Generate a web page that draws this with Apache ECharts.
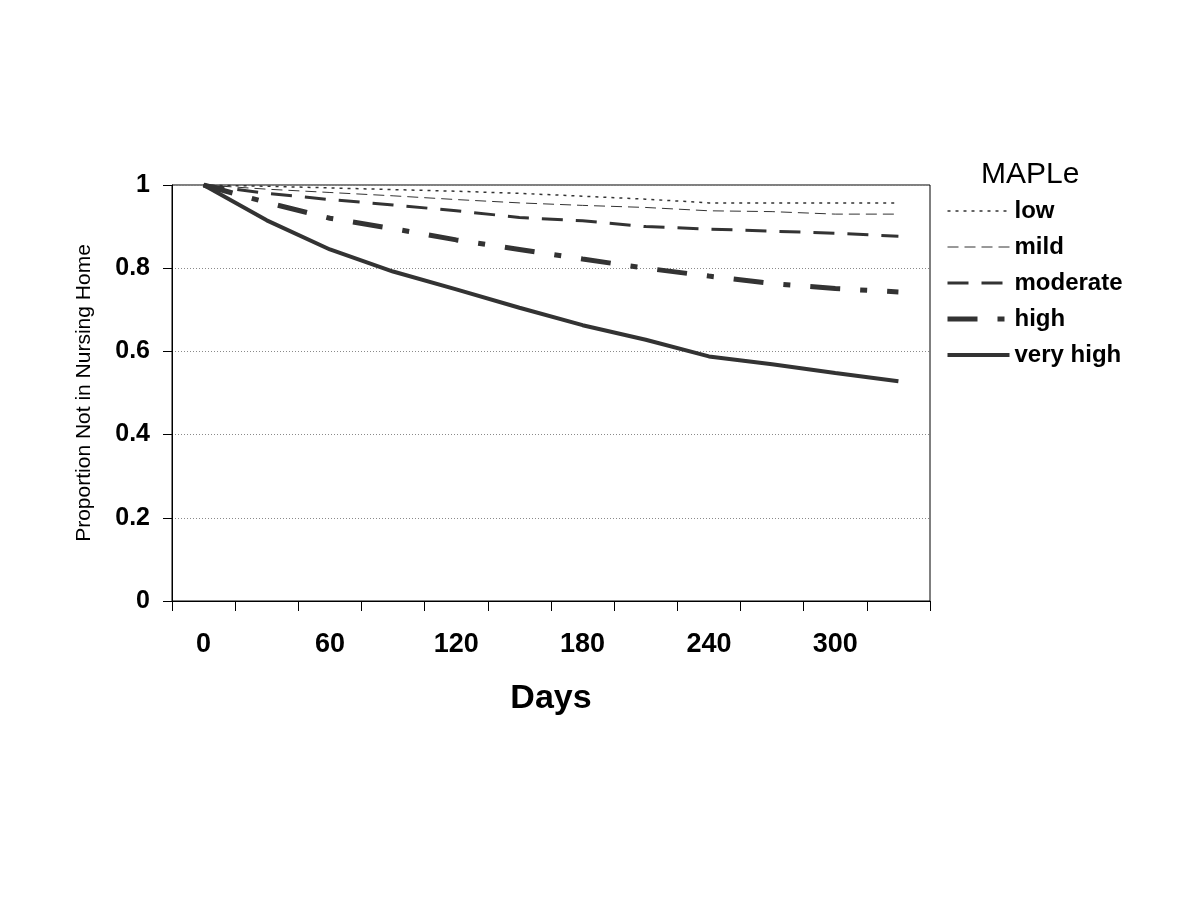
<!DOCTYPE html>
<html>
<head>
<meta charset="utf-8">
<script src="https://cdn.jsdelivr.net/npm/echarts@6/dist/echarts.min.js"></script>
<style>html,body{margin:0;padding:0;background:#fff;}#c{width:1200px;height:900px;}</style>
</head>
<body>
<div id="c"></div>
<script>
var days = [0, 30, 60, 90, 120, 150, 180, 210, 240, 270, 300, 330];
var yTicks = [0, 0.2, 0.4, 0.6, 0.8, 1];
var seriesNames = ['low', 'mild', 'moderate', 'high', 'very high'];
var low      = [1.0, 0.997, 0.993, 0.989, 0.985, 0.980, 0.973, 0.966, 0.957, 0.957, 0.957, 0.957];
var mild     = [1.0, 0.990, 0.982, 0.974, 0.965, 0.957, 0.951, 0.946, 0.938, 0.936, 0.930, 0.930];
var moderate = [1.0, 0.980, 0.965, 0.952, 0.938, 0.922, 0.914, 0.900, 0.894, 0.889, 0.884, 0.877];
var high     = [1.0, 0.958, 0.920, 0.895, 0.868, 0.845, 0.822, 0.800, 0.781, 0.763, 0.751, 0.743];
var veryHigh = [1.0, 0.915, 0.845, 0.792, 0.749, 0.705, 0.663, 0.628, 0.588, 0.569, 0.548, 0.528];

var values = [low, mild, moderate, high, veryHigh];
var styles = [
  {width: 1.5, type: [3, 5]},
  {width: 1, type: [11, 6]},
  {width: 3, type: [21, 13]},
  {width: 5, type: [30, 20, 7, 20]},
  {width: 4, type: 'solid'}
];
var lineColor = '#333333';
var font = "'Liberation Sans', Arial, sans-serif";

var chart = echarts.init(document.getElementById('c'), null, {renderer: 'canvas'});
var series = seriesNames.map(function (n, i) {
  return {
    name: n,
    type: 'line',
    data: values[i],
    symbol: 'none',
    smooth: false,
    animation: false,
    color: lineColor,
    lineStyle: {color: lineColor, width: styles[i].width, type: styles[i].type},
    z: 10 - i
  };
});

chart.setOption({
  animation: false,
  backgroundColor: '#ffffff',
  title: {
    text: 'MAPLe',
    left: 981,
    top: 160,
    padding: 0,
    textStyle: {fontFamily: font, fontSize: 30, fontWeight: 'normal', color: '#000'}
  },
  legend: {
    data: seriesNames,
    orient: 'vertical',
    left: 945,
    top: 199,
    padding: 0,
    itemWidth: 62,
    itemHeight: 14,
    itemGap: 12,
    selectedMode: false,
    itemStyle: {opacity: 0},
    lineStyle: {width: 'inherit', type: 'inherit', color: 'inherit'},
    textStyle: {fontFamily: font, fontSize: 24, fontWeight: 'bold', color: '#000', lineHeight: 24}
  },
  grid: {
    left: 172, right: 270, top: 185, bottom: 299,
    show: true, borderColor: '#000', borderWidth: 1, backgroundColor: 'transparent'
  },
  xAxis: {
    type: 'category',
    data: days,
    boundaryGap: true,
    name: 'Days',
    nameLocation: 'middle',
    nameGap: 81,
    nameTextStyle: {fontFamily: font, fontSize: 34, fontWeight: 'bold', color: '#000'},
    axisLine: {show: true, lineStyle: {color: '#000', width: 1}},
    axisTick: {show: true, interval: 0, length: 10, inside: false, lineStyle: {color: '#000'}},
    axisLabel: {interval: 1, margin: 30, fontFamily: font, fontSize: 27, fontWeight: 'bold', color: '#000'},
    splitLine: {show: false}
  },
  yAxis: {
    type: 'value',
    min: 0, max: 1, interval: 0.2,
    name: 'Proportion Not in Nursing Home',
    nameLocation: 'middle',
    nameGap: 77,
    nameTextStyle: {fontFamily: font, fontSize: 21, color: '#000'},
    axisLine: {show: true, lineStyle: {color: '#000', width: 1}},
    axisTick: {show: true, length: 9, inside: false, lineStyle: {color: '#000'}},
    axisLabel: {
      margin: 22, fontFamily: font, fontSize: 25, fontWeight: 'bold', color: '#000',
      formatter: function (v) {
        for (var k = 0; k < yTicks.length; k++) {
          if (Math.abs(yTicks[k] - v) < 1e-9) return String(yTicks[k]);
        }
        return '';
      }
    },
    splitLine: {show: true, lineStyle: {color: '#8a8a8a', width: 1, type: [1, 2]}}
  },
  series: series
});
</script>
</body>
</html>
